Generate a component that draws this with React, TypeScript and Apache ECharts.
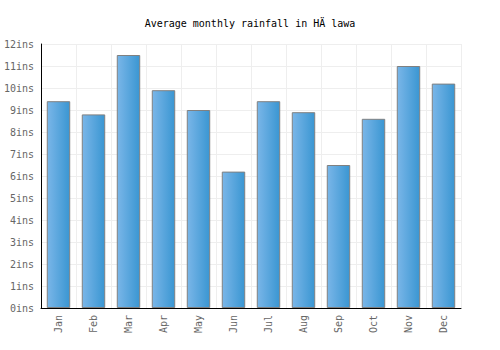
import React, { useEffect, useRef } from "react";
import * as echarts from "echarts";

const months = ["Jan", "Feb", "Mar", "Apr", "May", "Jun", "Jul", "Aug", "Sep", "Oct", "Nov", "Dec"];
const rainfall = [9.4, 8.8, 11.5, 9.9, 9.0, 6.2, 9.4, 8.9, 6.5, 8.6, 11.0, 10.2];
const titleText = "Average monthly rainfall in HÄ lawa";

export default function App() {
  const ref = useRef<HTMLDivElement>(null);
  useEffect(() => {
    if (!ref.current) return;
    const chart = echarts.init(ref.current, null, { renderer: "svg" });
    const font = "'DejaVu Sans Mono', monospace";
    chart.setOption({
      animation: false,
      title: {
        text: titleText,
        left: "center",
        top: 13,
        textStyle: { fontFamily: font, fontSize: 10, fontWeight: "normal", color: "#000" },
      },
      grid: { left: 41, right: 39, top: 44, bottom: 42, containLabel: false, outerBoundsMode: "none" },
      xAxis: {
        type: "category",
        data: months,
        axisLine: { lineStyle: { color: "#000", width: 1 } },
        axisTick: { show: false },
        axisLabel: { rotate: 90, color: "#666", fontFamily: font, fontSize: 10, margin: 7 },
        splitLine: { show: true, lineStyle: { color: "#eeeeee" } },
      },
      yAxis: {
        type: "value",
        min: 0,
        max: 12,
        interval: 1,
        axisLine: { show: true, lineStyle: { color: "#000", width: 1 } },
        axisTick: { show: false },
        axisLabel: {
          formatter: "{value}ins",
          color: "#666",
          fontFamily: font,
          fontSize: 10,
          margin: 7,
          overflow: "none",
          width: 60,
        },
        splitLine: { lineStyle: { color: "#eeeeee" } },
      },
      series: [
        {
          type: "bar",
          data: rainfall,
          barWidth: "67%",
          itemStyle: {
            color: new echarts.graphic.LinearGradient(0, 0, 1, 0, [
              { offset: 0, color: "#7ab6e8" },
              { offset: 1, color: "#3a96d2" },
            ]),
            borderColor: "#808080",
            borderWidth: 1,
          },
        },
      ],
    });
    return () => chart.dispose();
  }, []);
  return (
    <div
      ref={ref}
      style={{ position: "absolute", left: 0, top: 0, width: 500, height: 350 }}
    />
  );
}
